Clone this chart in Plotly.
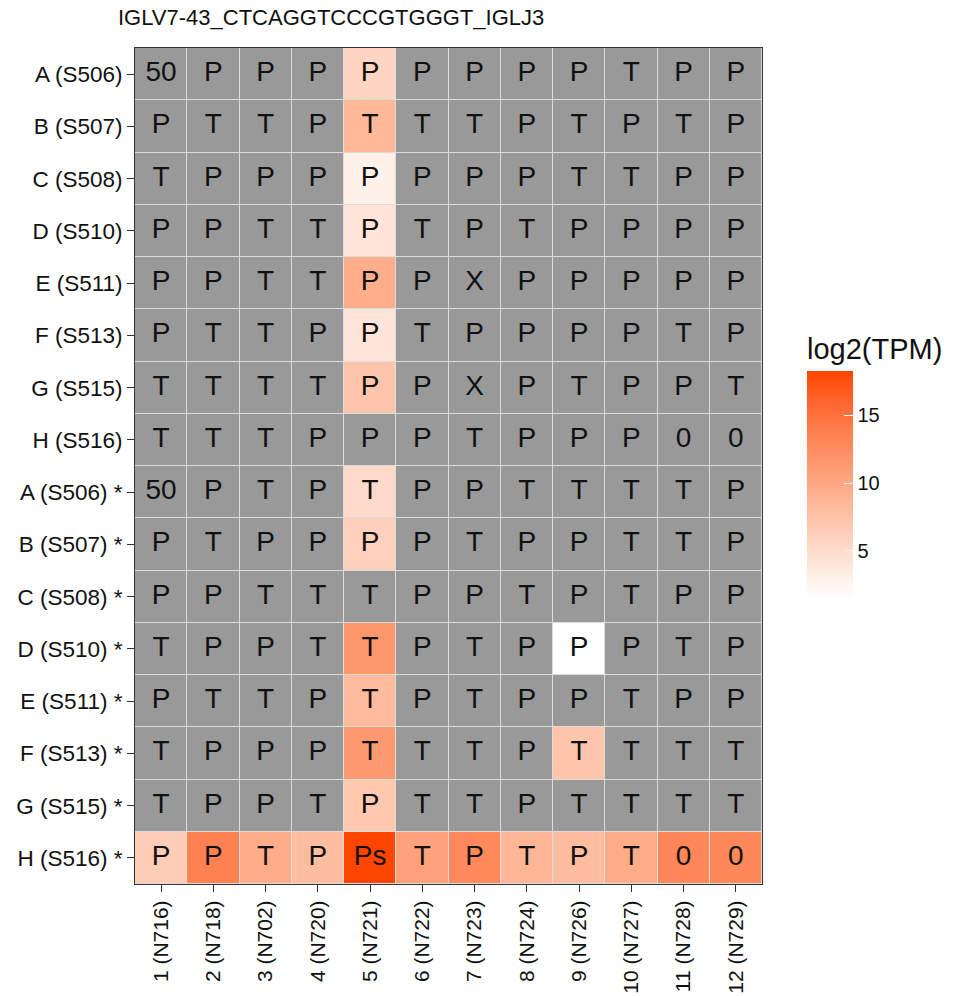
import numpy as np
import plotly.graph_objects as go

title_text = "IGLV7-43_CTCAGGTCCCGTGGGT_IGLJ3"

col_labels = ["1 (N716)", "2 (N718)", "3 (N702)", "4 (N720)", "5 (N721)", "6 (N722)",
              "7 (N723)", "8 (N724)", "9 (N726)", "10 (N727)", "11 (N728)", "12 (N729)"]

row_labels = ["A (S506)", "B (S507)", "C (S508)", "D (S510)", "E (S511)", "F (S513)",
              "G (S515)", "H (S516)",
              "A (S506) *", "B (S507) *", "C (S508) *", "D (S510) *", "E (S511) *",
              "F (S513) *", "G (S515) *", "H (S516) *"]

cell_text = [
    ["50", "P", "P", "P", "P", "P", "P", "P", "P", "T", "P", "P"],
    ["P", "T", "T", "P", "T", "T", "T", "P", "T", "P", "T", "P"],
    ["T", "P", "P", "P", "P", "P", "P", "P", "T", "T", "P", "P"],
    ["P", "P", "T", "T", "P", "T", "P", "T", "P", "P", "P", "P"],
    ["P", "P", "T", "T", "P", "P", "X", "P", "P", "P", "P", "P"],
    ["P", "T", "T", "P", "P", "T", "P", "P", "P", "P", "T", "P"],
    ["T", "T", "T", "T", "P", "P", "X", "P", "T", "P", "P", "T"],
    ["T", "T", "T", "P", "P", "P", "T", "P", "P", "P", "0", "0"],
    ["50", "P", "T", "P", "T", "P", "P", "T", "T", "T", "T", "P"],
    ["P", "T", "P", "P", "P", "P", "T", "P", "P", "T", "T", "P"],
    ["P", "P", "T", "T", "T", "P", "P", "T", "P", "T", "P", "P"],
    ["T", "P", "P", "T", "T", "P", "T", "P", "P", "P", "T", "P"],
    ["P", "T", "T", "P", "T", "P", "T", "P", "P", "T", "P", "P"],
    ["T", "P", "P", "P", "T", "T", "T", "P", "T", "T", "T", "T"],
    ["T", "P", "P", "T", "P", "T", "T", "P", "T", "T", "T", "T"],
    ["P", "P", "T", "P", "Ps", "T", "P", "T", "P", "T", "0", "0"],
]

N = None
# log2(TPM) values; None = no data (grey)
log2_tpm = [
    [N, N, N, N, 5.7, N, N, N, N, N, N, N],
    [N, N, N, N, 8.5, N, N, N, N, N, N, N],
    [N, N, N, N, 3.0, N, N, N, N, N, N, N],
    [N, N, N, N, 4.2, N, N, N, N, N, N, N],
    [N, N, N, N, 9.4, N, N, N, N, N, N, N],
    [N, N, N, N, 4.1, N, N, N, N, N, N, N],
    [N, N, N, N, 7.2, N, N, N, N, N, N, N],
    [N, N, N, N, N, N, N, N, N, N, N, N],
    [N, N, N, N, 5.2, N, N, N, N, N, N, N],
    [N, N, N, N, 6.1, N, N, N, N, N, N, N],
    [N, N, N, N, N, N, N, N, N, N, N, N],
    [N, N, N, N, 11.6, N, N, N, 1.54, N, N, N],
    [N, N, N, N, 8.2, N, N, N, N, N, N, N],
    [N, N, N, N, 11.4, N, N, N, 7.2, N, N, N],
    [N, N, N, N, 6.9, N, N, N, N, N, N, N],
    [6.5, 13.6, 9.6, 8.0, 18.24, 10.6, 12.9, 8.7, 8.1, 9.6, 13.1, 13.0],
]

z = np.array([[np.nan if v is None else v for v in row] for row in log2_tpm], dtype=float)
na_mask = np.where(np.isnan(z), 1.0, np.nan)

# white -> orangered gradient (Lab-like interpolation stops)
colorscale = [
    [0.0, "rgb(255,255,255)"],
    [0.125, "rgb(255,234,224)"],
    [0.25, "rgb(255,212,193)"],
    [0.375, "rgb(255,191,162)"],
    [0.5, "rgb(255,169,133)"],
    [0.625, "rgb(255,147,104)"],
    [0.75, "rgb(255,124,74)"],
    [0.875, "rgb(255,98,44)"],
    [1.0, "rgb(255,69,0)"],
]

FONT = "Liberation Sans, Arial, Helvetica, sans-serif"

fig = go.Figure()

fig.add_trace(go.Heatmap(
    z=na_mask, x=col_labels, y=row_labels,
    colorscale=[[0, "#999999"], [1, "#999999"]],
    showscale=False, xgap=1, ygap=1, hoverinfo="skip",
))

fig.add_trace(go.Heatmap(
    z=z, x=col_labels, y=row_labels,
    colorscale=colorscale, zmin=1.54, zmax=18.24,
    xgap=1, ygap=1,
    colorbar=dict(
        title=dict(text="log2(TPM)", side="top", font=dict(size=29, family=FONT, color="#111")),
        x=(797 - 135) / 627, xanchor="left", xpad=10,
        y=(884 - 466) / 836, yanchor="middle",
        len=284, lenmode="pixels",
        thickness=46, thicknessmode="pixels",
        outlinewidth=0,
        tickvals=[5, 10, 15],
        ticks="inside", ticklen=9, tickcolor="white", tickwidth=1,
        tickfont=dict(size=20, family=FONT, color="#111"),
    ),
))

xs, ys, ts = [], [], []
for i, r in enumerate(row_labels):
    for j, c in enumerate(col_labels):
        xs.append(c)
        ys.append(r)
        ts.append(cell_text[i][j])

fig.add_trace(go.Scatter(
    x=xs, y=ys, text=ts, mode="text",
    textfont=dict(size=28, family=FONT, color="#111"),
    hoverinfo="skip", showlegend=False,
))

fig.update_layout(
    width=955, height=996,
    margin=dict(l=135, r=193, t=48, b=112, autoexpand=False),
    paper_bgcolor="white",
    plot_bgcolor="#DCDCDC",
    title=dict(text=title_text, x=118 / 955, xanchor="left", xref="container",
               y=1 - 17 / 996, yanchor="middle", yref="container",
               font=dict(size=22, family=FONT, color="#111")),
    showlegend=False,
)

fig.update_xaxes(
    type="category", categoryorder="array", categoryarray=col_labels,
    tickangle=-90, tickfont=dict(size=21, family=FONT, color="#111"),
    ticks="outside", ticklen=7, tickcolor="#333", showgrid=False, zeroline=False,
    showline=True, mirror=True, linecolor="#333", linewidth=1,
    range=[-0.5, len(col_labels) - 0.5], automargin=False,
)
fig.update_yaxes(
    type="category", categoryorder="array", categoryarray=row_labels,
    autorange=False, range=[len(row_labels) - 0.5, -0.5],
    tickfont=dict(size=22.5, family=FONT, color="#111"),
    ticks="outside", ticklen=7, tickcolor="#333", showgrid=False, zeroline=False,
    showline=True, mirror=True, linecolor="#333", linewidth=1, automargin=False,
)

fig.write_html("out.html")
